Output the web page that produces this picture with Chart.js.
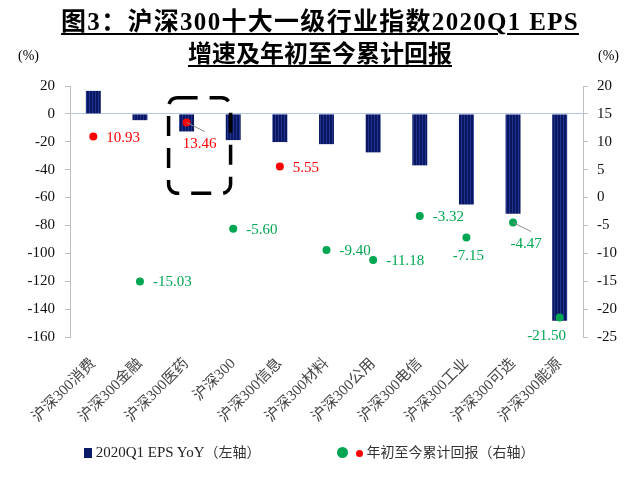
<!DOCTYPE html>
<html>
<head>
<meta charset="utf-8">
<script src="https://cdn.jsdelivr.net/npm/chart.js@4/dist/chart.umd.min.js"></script>
<style>
  body { margin: 0; background: #fff; }
  #wrap { position: relative; width: 640px; height: 477px; overflow: hidden; }
  #chart { position: absolute; left: 0; top: 0; }
  .title { position: absolute; left: 0; width: 640px; text-align: center;
           font: bold 24px "Liberation Serif", "Noto Sans CJK SC", serif; color: #000; }
  .title span { text-decoration: underline; text-underline-offset: 3px; text-decoration-thickness: 2px; }
  .unit { position: absolute; top: 48px; font: 14px "Liberation Serif", serif; color: #000; }
  .legend { position: absolute; top: 441px; font: 15px "Liberation Serif", "Noto Sans CJK SC", serif; color: #222; white-space: nowrap; }
  .cn { font-family: "Noto Sans CJK SC", sans-serif; font-size: 14px; color: #333; }
</style>
</head>
<body>
<div id="wrap">
  <canvas id="chart" width="640" height="477"></canvas>
  <div class="title" style="top:1px;font-size:25px;letter-spacing:1.3px"><span>图3：沪深300十大一级行业指数2020Q1 EPS</span></div>
  <div class="title" style="top:34px"><span>增速及年初至今累计回报</span></div>
  <div class="unit" style="left:18px">(%)</div>
  <div class="unit" style="left:598px">(%)</div>
  <div class="legend" style="left:84px">
    <span style="display:inline-block;width:8px;height:10px;background:#0b1a66;vertical-align:-1px"></span>
    2020Q1 EPS YoY<span class="cn">（左轴）</span>
  </div>
  <div class="legend" style="left:337px">
    <span style="display:inline-block;width:11px;height:11px;border-radius:50%;background:#00a651;vertical-align:-1px"></span>
    <span style="display:inline-block;width:7px;height:7px;border-radius:50%;background:#ff0000;vertical-align:0px;margin-left:4px"></span>
    <span class="cn">年初至今累计回报（右轴）</span>
  </div>
</div>
<script>
// ======= 数据 =======
const categories = ['沪深300消费', '沪深300金融', '沪深300医药', '沪深300', '沪深300信息',
  '沪深300材料', '沪深300公用', '沪深300电信', '沪深300工业', '沪深300可选', '沪深300能源'];
const epsYoY = [16.5, -4.5, -12.6, -18.8, -20.2, -21.7, -27.6, -36.9, -65.0, -71.7, -148.3];   // 左轴
const ytdReturn = [10.93, -15.03, 13.46, -5.60, 5.55, -9.40, -11.18, -3.32, -7.15, -4.47, -21.50]; // 右轴
const leftTicks = [20, 0, -20, -40, -60, -80, -100, -120, -140, -160];
const rightTicks = [20, 15, 10, 5, 0, -5, -10, -15, -20, -25];

// 标签位置（样式）
const labelPos = ['r', 'r', 'br', 'r', 'r', 'r', 'r', 'r', 'b', 'br', 'b'];

const ctx = document.getElementById('chart').getContext('2d');

// 竖条纹填充
const pc = document.createElement('canvas');
pc.width = 3; pc.height = 4;
const p = pc.getContext('2d');
p.fillStyle = '#0a1760'; p.fillRect(0, 0, 3, 4);
p.fillStyle = '#1f3590'; p.fillRect(2, 0, 1, 4);
const stripe = ctx.createPattern(pc, 'repeat');

const serif = 'Liberation Serif';

// 数据标签 + 虚线框
const extras = {
  id: 'extras',
  afterDatasetsDraw(chart) {
    const c = chart.ctx;
    const meta = chart.getDatasetMeta(1);
    c.save();
    c.font = '15px ' + serif;
    meta.data.forEach((pt, i) => {
      const v = ytdReturn[i];
      const txt = v.toFixed(2);
      c.fillStyle = v >= 0 ? '#ff0000' : '#00a651';
      const pos = labelPos[i];
      if (pos === 'r') {
        c.textAlign = 'left'; c.textBaseline = 'middle';
        c.fillText(txt, pt.x + 13, pt.y + 1);
      } else if (pos === 'b') {
        c.textAlign = 'center'; c.textBaseline = 'middle';
        c.fillText(txt, pt.x + (i === 10 ? -13 : 2), pt.y + 19);
      } else {
        c.strokeStyle = '#8c8c8c'; c.lineWidth = 1;
        c.beginPath(); c.moveTo(pt.x, pt.y); c.lineTo(pt.x + 18, pt.y + 9); c.stroke();
        c.textAlign = 'center'; c.textBaseline = 'middle';
        c.fillText(txt, pt.x + 13, pt.y + 22);
      }
    });
    // 医药 虚线框
    const x = chart.scales.x, y = chart.scales.y;
    const cx = x.getPixelForValue(2);
    const x0 = cx - 18, x1 = cx + 44;
    const y0 = y.getPixelForValue(11.5), y1 = y.getPixelForValue(-57);
    c.strokeStyle = '#000'; c.lineWidth = 3.5;
    c.setLineDash([20, 12]);
    c.beginPath();
    c.roundRect(x0, y0, x1 - x0, y1 - y0, 9);
    c.stroke();
    c.restore();
  }
};

new Chart(ctx, {
  data: {
    labels: categories,
    datasets: [{
      type: 'bar',
      label: '2020Q1 EPS YoY（左轴）',
      data: epsYoY,
      yAxisID: 'y',
      backgroundColor: stripe,
      barPercentage: 0.32,
      categoryPercentage: 1,
      order: 2
    }, {
      type: 'line',
      label: '年初至今累计回报（右轴）',
      data: ytdReturn,
      yAxisID: 'y1',
      showLine: false,
      pointRadius: 4,
      pointBorderWidth: 0,
      pointBackgroundColor: ytdReturn.map(v => v >= 0 ? '#ff0000' : '#00a651'),
      order: 1
    }]
  },
  options: {
    responsive: false,
    animation: false,
    layout: { padding: { top: 86, left: 0, right: 0, bottom: 0 } },
    plugins: { legend: { display: false }, tooltip: { enabled: false } },
    scales: {
      x: {
        grid: { display: false },
        border: { display: false },
        ticks: {
          minRotation: 45, maxRotation: 45, padding: 10,
          color: '#444', font: { family: 'Liberation Serif, Noto Sans CJK SC', size: 15 }
        },
        afterFit: s => { s.height = 140; }
      },
      y: {
        position: 'left',
        min: -160, max: 20,
        afterBuildTicks: s => { s.ticks = leftTicks.map(v => ({ value: v })); },
        grid: {
          drawOnChartArea: true, drawTicks: true, tickLength: 5,
          color: c => (c.tick && c.tick.value === 0) ? '#b4c7e7' : 'rgba(0,0,0,0)',
          tickColor: '#bfbfbf'
        },
        border: { display: true, color: '#bfbfbf' },
        ticks: { color: '#111', padding: 10, font: { family: serif, size: 15 } },
        afterFit: s => { s.width = 70; }
      },
      y1: {
        position: 'right',
        min: -25, max: 20,
        afterBuildTicks: s => { s.ticks = rightTicks.map(v => ({ value: v })); },
        grid: { drawOnChartArea: false, drawTicks: true, tickLength: 5, tickColor: '#bfbfbf' },
        border: { display: true, color: '#bfbfbf' },
        ticks: { color: '#111', padding: 9, font: { family: serif, size: 15 } },
        afterFit: s => { s.width = 57; }
      }
    }
  },
  plugins: [extras]
});
</script>
</body>
</html>
